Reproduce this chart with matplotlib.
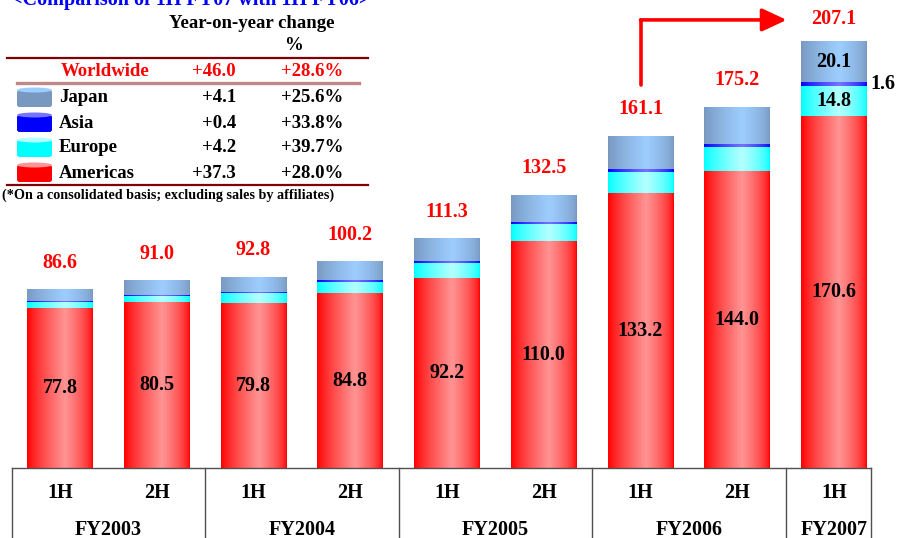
import matplotlib
matplotlib.use("Agg")
import matplotlib.pyplot as plt
import numpy as np
from matplotlib.patches import FancyBboxPatch, Ellipse

# ---- data (billions of yen, half-year sales by region) ----
halves = ["1H", "2H", "1H", "2H", "1H", "2H", "1H", "2H", "1H"]
fiscal_years = ["FY2003", "FY2004", "FY2005", "FY2006", "FY2007"]
americas = [77.8, 80.5, 79.8, 84.8, 92.2, 110.0, 133.2, 144.0, 170.6]
europe = [2.5, 3.0, 5.0, 5.5, 7.0, 8.5, 10.3, 11.6, 14.8]
asia = [0.6, 0.6, 0.6, 1.0, 1.0, 1.0, 1.3, 1.3, 1.6]
japan = [5.7, 6.9, 7.4, 8.9, 11.1, 13.0, 16.3, 18.3, 20.1]
totals = [86.6, 91.0, 92.8, 100.2, 111.3, 132.5, 161.1, 175.2, 207.1]

# legend table (1H FY07 vs 1H FY06)
legend_regions = ["Japan", "Asia", "Europe", "Americas"]
legend_change = ["+4.1", "+0.4", "+4.2", "+37.3"]
legend_pct = ["+25.6%", "+33.8%", "+39.7%", "+28.0%"]
world_change, world_pct = "+46.0", "+28.6%"

SERIF = ["Liberation Serif", "DejaVu Serif"]
RED = "#FF0000"
# (edge colour, centre highlight) per segment
STYLE = {
    "americas": ("#FF0000", "#FF9494"),
    "europe": ("#00FFFF", "#B4FFFF"),
    "asia": ("#0000FF", "#7474FF"),
    "japan": ("#7898C0", "#9DCDFF"),
}


def gradient(edge, centre, n=80):
    """Horizontal cylinder-like shading: dark edges, light band right of middle."""
    e = np.array(matplotlib.colors.to_rgb(edge))
    c = np.array(matplotlib.colors.to_rgb(centre))
    t = np.linspace(0, 1, n)
    w = np.where(t < 0.58, (t / 0.58) ** 0.8, ((1 - t) / 0.42) ** 0.6)
    return (e + (c - e) * w[:, None])[None, :, :]


def shaded_rect(ax, patch, key, zorder=2):
    edge, centre = STYLE[key]
    x0, y0 = patch.get_x(), patch.get_y()
    x1, y1 = x0 + patch.get_width(), y0 + patch.get_height()
    im = ax.imshow(gradient(edge, centre), extent=[x0, x1, y0, y1], aspect="auto",
                   interpolation="bilinear", zorder=zorder)
    im.set_clip_path(patch)


fig = plt.figure(figsize=(8.98, 5.38), dpi=100)
ax = fig.add_axes([0, 0, 1, 1])
ax.axis("off")

x = np.arange(len(totals))
width = 0.68
bottom = np.zeros(len(x))
for key, vals in [("americas", americas), ("europe", europe), ("asia", asia), ("japan", japan)]:
    bars = ax.bar(x, vals, width, bottom=bottom, color=STYLE[key][0], linewidth=0, zorder=1)
    for p in bars.patches:
        shaded_rect(ax, p, key)
    bottom += np.array(vals)

font = dict(family=SERIF, weight="bold", fontsize=14.5)
for i, tot in enumerate(totals):
    off = 10.5 if i == len(totals) - 1 else 12.8
    ax.text(x[i], tot + off, f"{tot:.1f}", color=RED, ha="center", va="center", zorder=5, **font)
    ax.text(x[i], americas[i] / 2, f"{americas[i]:.1f}", color="black", ha="center",
            va="center", zorder=5, **font)

# latest half: detail labels
k = len(x) - 1
base_eu = americas[k]
ax.text(x[k], base_eu + europe[k] / 2, f"{europe[k]:.1f}", ha="center", va="center", zorder=5, **font)
top_asia = base_eu + europe[k] + asia[k]
ax.text(x[k], top_asia + japan[k] / 2, f"{japan[k]:.1f}", ha="center", va="center", zorder=5, **font)
ax.text(x[k] + width / 2 + 0.04, top_asia - asia[k] / 2, f"{asia[k]:.1f}", ha="left",
        va="center", zorder=5, **font)

# growth arrow from 1H FY06 to 1H FY07
j = 6
ax.plot([x[j], x[j]], [totals[j] + 24.5, totals[k] + 10.2], color=RED, lw=2.6,
        solid_capstyle="round", zorder=5)
ax.annotate("", xy=(x[k] - 0.49, totals[k] + 10.2), xytext=(x[j], totals[k] + 10.2),
            arrowprops=dict(arrowstyle="-|>,head_length=1.5,head_width=0.7", color=RED,
                            lw=2.6, shrinkA=0, shrinkB=0), zorder=5)

# category table under the bars
line_kw = dict(color="#505050", lw=1.0, zorder=4)
left, right = -0.5, 8.38
ax.plot([left, right], [0, 0], **line_kw)
for xv in [left, 1.5, 3.5, 5.5, 7.5, right]:
    ax.plot([xv, xv], [0, -40], **line_kw)
for i, h in enumerate(halves):
    ax.text(x[i], -12.1, h, ha="center", va="center", **font)
fy_pos = [0.5, 2.5, 4.5, 6.5, 8.0]
for xp, fy in zip(fy_pos, fiscal_years):
    ax.text(xp, -30.2, fy, ha="center", va="center", **font)

ax.set_xlim(-0.620, 8.661)
ax.set_ylim(-33.95, 226.96)

# ---- legend table, drawn in pixel coordinates ----
lax = fig.add_axes([0, 0, 1, 1], zorder=3)
lax.axis("off")
lf = dict(family=SERIF, weight="bold", fontsize=13.5)
lax.text(11, 5, "<Comparison of 1H FY07 with 1H FY06>", color="#0000FF", ha="left",
         va="baseline", family=SERIF, weight="bold", fontsize=14.5)
lax.text(252, 23, "Year-on-year change", ha="center", va="center", **lf)
lax.text(293, 46, "%", ha="center", va="center", **lf)
lax.plot([7, 368], [58, 58], color="#800000", lw=1.6)
lax.text(61, 71, "Worldwide", color=RED, ha="left", va="center", **lf)
lax.text(236, 71, world_change, color=RED, ha="right", va="center", **lf)
lax.text(343, 71, world_pct, color=RED, ha="right", va="center", **lf)
lax.plot([17, 359], [83, 83], color="#C08888", lw=2.4)
icon_keys = ["japan", "asia", "europe", "americas"]
for r, (name, ch, pc) in enumerate(zip(legend_regions, legend_change, legend_pct)):
    yc = 98 + r * 25
    lax.text(59, yc, name, ha="left", va="center", **lf)
    lax.text(236, yc, ch, ha="right", va="center", **lf)
    lax.text(343, yc, pc, ha="right", va="center", **lf)
    edge, centre = STYLE[icon_keys[r]]
    body = FancyBboxPatch((17, yc - 8), 35, 17, boxstyle="round,pad=0,rounding_size=3",
                          linewidth=0, facecolor=edge)
    lax.add_patch(body)
    im = lax.imshow(gradient(edge, centre), extent=[17, 52, yc - 8, yc + 9], aspect="auto",
                    interpolation="bilinear")
    im.set_clip_path(body)
    lax.add_patch(Ellipse((34.5, yc - 8), 35, 5, facecolor=centre, linewidth=0, zorder=3))
lax.plot([7, 368], [185, 185], color="#800000", lw=1.6)
lax.text(2, 195, "(*On a consolidated basis; excluding sales by affiliates)", ha="left",
         va="center", family=SERIF, weight="bold", fontsize=10.2)
lax.set_xlim(0, 898)
lax.set_ylim(538, 0)

fig.savefig("out.png", dpi=100)
